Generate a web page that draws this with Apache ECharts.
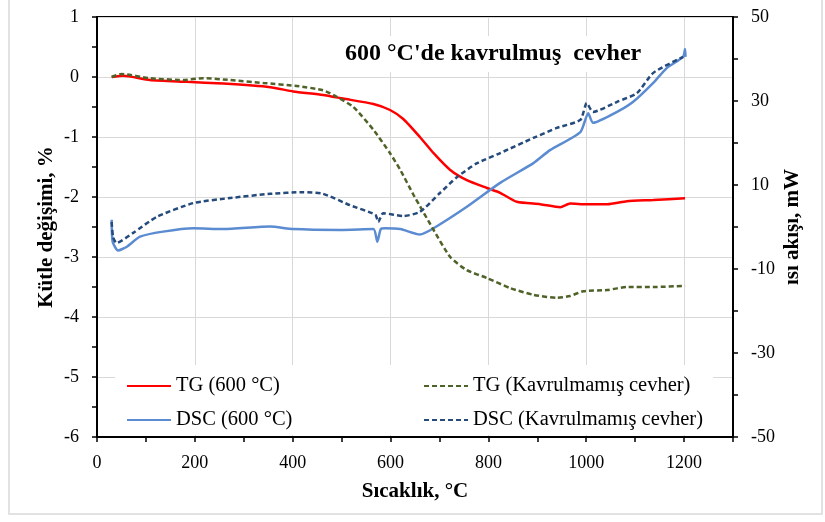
<!DOCTYPE html>
<html>
<head>
<meta charset="utf-8">
<script src="https://cdn.jsdelivr.net/npm/echarts@6/dist/echarts.min.js"></script>
<style>
  html, body { margin: 0; padding: 0; background: #fff; }
  #main { width: 825px; height: 522px; }
</style>
</head>
<body>
<div id="main"></div>
<script>
// TG (600 °C) - kütle değişimi, %
var tg600T = [30, 54, 108, 183, 258, 354, 401, 462, 503, 565, 599, 626, 660, 688, 722, 756, 797, 824, 858, 906, 947, 967, 1001, 1043, 1083, 1137, 1202];
var tg600V = [0.0, 0.02, -0.05, -0.08, -0.11, -0.17, -0.24, -0.3, -0.36, -0.45, -0.55, -0.7, -1.0, -1.27, -1.55, -1.72, -1.85, -1.93, -2.08, -2.12, -2.17, -2.11, -2.12, -2.12, -2.07, -2.05, -2.02];

// TG (Kavrulmamış cevher)
var tgHamT = [30, 50, 108, 176, 217, 272, 340, 408, 462, 490, 524, 565, 599, 620, 646, 660, 688, 722, 756, 797, 845, 892, 940, 967, 994, 1043, 1083, 1137, 1202];
var tgHamV = [0.0, 0.05, -0.02, -0.05, -0.02, -0.05, -0.1, -0.15, -0.22, -0.33, -0.5, -0.88, -1.27, -1.55, -1.95, -2.15, -2.55, -3.0, -3.22, -3.35, -3.52, -3.63, -3.68, -3.65, -3.57, -3.55, -3.5, -3.5, -3.48];

// DSC (600 °C) - ısı akışı, mW
var dsc600T = [30, 32, 43, 61, 88, 135, 197, 258, 354, 401, 497, 565, 573, 580, 589, 620, 660, 688, 756, 824, 892, 926, 988, 1004, 1014, 1063, 1096, 1137, 1165, 1198, 1202, 1203];
var dsc600V = [1.7, -3.5, -5.6, -4.7, -2.3, -1.1, -0.3, -0.5, 0.1, -0.5, -0.7, -0.5, -3.5, -0.5, -0.3, -0.5, -1.8, -0.3, 4.8, 10.5, 15.2, 18.3, 22.6, 27.1, 24.8, 27.4, 29.8, 34.3, 37.9, 40.5, 42.4, 40.5];

// DSC (Kavrulmamış cevher)
var dscHamT = [30, 33, 40, 74, 122, 197, 272, 354, 422, 462, 517, 569, 575, 585, 626, 660, 701, 736, 777, 824, 892, 940, 988, 1001, 1014, 1063, 1104, 1137, 1198];
var dscHamV = [1.2, -2.5, -3.8, -1.4, 2.4, 5.7, 6.9, 7.9, 8.3, 7.9, 5.2, 2.9, 1.2, 3.3, 2.6, 3.6, 8.1, 11.9, 15.2, 17.6, 21.2, 23.6, 25.5, 29.5, 27.4, 29.8, 31.9, 36.7, 40.5];

var seriesNames = ['TG (600 °C)', 'DSC (600 °C)', 'TG (Kavrulmamış cevher)', 'DSC (Kavrulmamış cevher)'];
var titleText = "600 °C'de kavrulmuş  cevher";

function pairs(xs, ys) {
    var out = [];
    for (var i = 0; i < xs.length; i++) out.push([xs[i], ys[i]]);
    return out;
}

var fontFam = '"Liberation Serif", "Times New Roman", serif';
var chart = echarts.init(document.getElementById('main'));

var legendBase = {
    orient: 'vertical',
    top: 369,
    itemWidth: 44, itemHeight: 14, itemGap: 10,
    itemStyle: { opacity: 0 },
    textStyle: { fontFamily: fontFam, fontSize: 20.5, color: '#000', lineHeight: 24 }
};
var nameStyle = { fontFamily: fontFam, fontSize: 21, fontWeight: 'bold', color: '#000' };
var tickLine = { color: '#000', width: 1.5 };

var option = {
    animation: false,
    backgroundColor: '#fff',
    textStyle: { fontFamily: fontFam, color: '#000' },
    title: {
        text: titleText,
        left: 337,
        top: 36,
        padding: [6, 8],
        backgroundColor: '#fff',
        textStyle: { fontFamily: fontFam, fontSize: 24, fontWeight: 'bold', color: '#000' }
    },
    graphic: [
        { type: 'rect', z: -1, shape: { x: 9, y: -2, width: 813, height: 516 },
          style: { fill: 'none', stroke: '#d9d9d9', lineWidth: 1.5 } },
        { type: 'rect', z: 1, shape: { x: 115, y: 365, width: 598, height: 70 },
          style: { fill: '#fff' } }
    ],
    legend: [
        Object.assign({}, legendBase, { data: [seriesNames[0], seriesNames[1]], left: 121 }),
        Object.assign({}, legendBase, { data: [seriesNames[2], seriesNames[3]], left: 418 })
    ],
    grid: {
        left: 97, right: 92, top: 17, bottom: 85,
        show: true, borderColor: '#000', borderWidth: 2
    },
    xAxis: {
        type: 'value', min: 0, max: 1300, interval: 200,
        name: 'Sıcaklık, °C', nameLocation: 'middle', nameGap: 44,
        nameTextStyle: nameStyle,
        axisLine: { onZero: false, lineStyle: { color: '#000', width: 2 } },
        axisTick: { length: 5, lineStyle: tickLine },
        minorTick: { show: true, splitNumber: 2, length: 5, lineStyle: tickLine },
        axisLabel: {
            showMaxLabel: false, margin: 17, fontFamily: fontFam, fontSize: 18, color: '#000',
            formatter: function (v) { return String(v); }
        },
        splitLine: { show: true, lineStyle: { color: '#d9d9d9', width: 1 } }
    },
    yAxis: [{
        type: 'value', min: -6, max: 1, interval: 1,
        name: 'Kütle değişimi, %', nameLocation: 'middle', nameGap: 40, nameRotate: 90,
        nameMoveOverlap: false,
        nameTextStyle: nameStyle,
        axisLine: { show: true, onZero: false, lineStyle: { color: '#000', width: 2 } },
        axisTick: { show: true, length: 5, lineStyle: tickLine },
        minorTick: { show: true, splitNumber: 2, length: 5, lineStyle: tickLine },
        axisLabel: { margin: 18, fontFamily: fontFam, fontSize: 18, color: '#000' },
        splitLine: { show: true, lineStyle: { color: '#d9d9d9', width: 1 } }
    }, {
        type: 'value', min: -50, max: 50, interval: 20, position: 'right',
        name: 'ısı akışı, mW', nameLocation: 'middle', nameGap: 49, nameRotate: 90,
        nameMoveOverlap: false,
        nameTextStyle: nameStyle,
        axisLine: { show: true, onZero: false, lineStyle: { color: '#000', width: 2 } },
        axisTick: { show: true, length: 5, lineStyle: tickLine },
        minorTick: { show: true, splitNumber: 2, length: 5, lineStyle: tickLine },
        axisLabel: { margin: 18, fontFamily: fontFam, fontSize: 18, color: '#000' },
        splitLine: { show: false }
    }],
    series: [{
        name: seriesNames[0], type: 'line', yAxisIndex: 0, showSymbol: false, symbol: 'none', smooth: 0.2,
        data: pairs(tg600T, tg600V),
        itemStyle: { color: '#ff0000' },
        lineStyle: { color: '#ff0000', width: 2.5 }
    }, {
        name: seriesNames[1], type: 'line', yAxisIndex: 1, showSymbol: false, symbol: 'none', smooth: 0.2,
        data: pairs(dsc600T, dsc600V),
        itemStyle: { color: '#5b8bd0' },
        lineStyle: { color: '#5b8bd0', width: 2.5 }
    }, {
        name: seriesNames[2], type: 'line', yAxisIndex: 0, showSymbol: false, symbol: 'none', smooth: 0.2,
        data: pairs(tgHamT, tgHamV),
        itemStyle: { color: '#4f6228' },
        lineStyle: { color: '#4f6228', width: 2.5, type: [5, 3] }
    }, {
        name: seriesNames[3], type: 'line', yAxisIndex: 1, showSymbol: false, symbol: 'none', smooth: 0.2,
        data: pairs(dscHamT, dscHamV),
        itemStyle: { color: '#254a7c' },
        lineStyle: { color: '#254a7c', width: 2.5, type: [5, 3] }
    }]
};

chart.setOption(option);
</script>
</body>
</html>
